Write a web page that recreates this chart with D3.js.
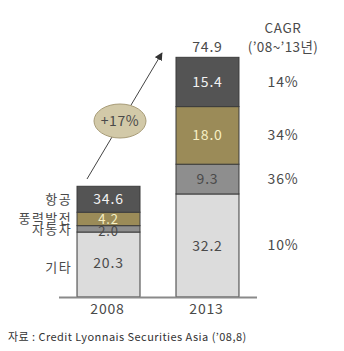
<!DOCTYPE html>
<html><head><meta charset="utf-8">
<script src="https://cdn.jsdelivr.net/npm/d3@7"></script>
<style>
html,body{margin:0;padding:0;background:#fff;}
svg{display:block;}
text{font-family:"Noto Sans CJK KR","Noto Sans",sans-serif;}
</style></head>
<body>
<svg id="c" width="344" height="351"></svg>
<script>
const years = ["2008", "2013"];
const categories = ["기타", "자동차", "풍력발전", "항공"];
const values2008 = [20.3, 2.0, 4.2, 8.1];
const values2013 = [32.2, 9.3, 18.0, 15.4];
const labels2008 = ["20.3", "2.0", "4.2", "34.6"];
const labels2013 = ["32.2", "9.3", "18.0", "15.4"];
const totals = [34.6, 74.9];
const cagr = ["10%", "36%", "34%", "14%"];
const growthLabel = "+17%";

const colors = ["#dcdcdc", "#8e8e8e", "#9b8b58", "#545454"];
const textColors = ["#4a4a4a", "#4a4a4a", "#f6efc4", "#f2f2f2"];
const ink = "#4a4a4a";

const svg = d3.select("#c");
const y = d3.scaleLinear().domain([0, 75]).range([297, 57]);
const x = d3.scaleBand().domain(years).range([59, 257]).paddingInner(0.3636).paddingOuter(0.182);

const series = [values2008, values2013];
const labels = [labels2008, labels2013];

// arrow + ellipse (behind)
svg.append("defs").append("marker").attr("id","ah").attr("viewBox","0 0 10 10")
  .attr("refX",9).attr("refY",5).attr("markerWidth",8).attr("markerHeight",8)
  .attr("orient","auto").attr("markerUnits","userSpaceOnUse")
  .append("path").attr("d","M0,0L10,5L0,10z").attr("fill","#333");
svg.append("line").attr("x1",87).attr("y1",179).attr("x2",162).attr("y2",53)
  .attr("stroke","#444").attr("stroke-width",1).attr("marker-end","url(#ah)");
svg.append("ellipse").attr("cx",120).attr("cy",121).attr("rx",26).attr("ry",17)
  .attr("fill","#d2c9a8").attr("stroke","#a89c78").attr("stroke-width",1);
svg.append("text").attr("x",120).attr("y",126).attr("text-anchor","middle")
  .attr("font-size",14).attr("letter-spacing",0.6).attr("fill",ink).text(growthLabel);

years.forEach((yr, i) => {
  let acc = 0;
  series[i].forEach((v, j) => {
    const y0 = y(acc), y1 = y(acc + v);
    svg.append("rect").attr("x", x(yr)).attr("y", y1)
      .attr("width", x.bandwidth()).attr("height", y0 - y1)
      .attr("fill", colors[j]).attr("stroke", "#3c3c3c").attr("stroke-width", 1);
    acc += v;
  });
});

// axis baseline
svg.append("line").attr("x1",59).attr("x2",257).attr("y1",y(0)+0.5).attr("y2",y(0)+0.5)
  .attr("stroke","#8a8a8a").attr("stroke-width",2);

// value labels
const labelNudge2008 = [-2, 2, 0, 0];
const labelSize2008 = [14, 13, 13, 14];
years.forEach((yr, i) => {
  let acc = 0;
  series[i].forEach((v, j) => {
    const cy = (y(acc) + y(acc + v)) / 2 + (i === 0 ? labelNudge2008[j] : 0);
    const fs = i === 0 ? labelSize2008[j] : 14;
    svg.append("text").attr("x", x(yr) + x.bandwidth()/2).attr("y", cy + fs * 0.36)
      .attr("text-anchor","middle").attr("font-size",fs).attr("letter-spacing",0.8)
      .attr("fill", textColors[j]).text(labels[i][j]);
    acc += v;
  });
});

// category labels for 2008
const catY = [267, 229.5, 218, 199];
categories.forEach((c, j) => {
  svg.append("text").attr("x", 72).attr("y", catY[j] + 4.5).attr("text-anchor","end")
    .attr("font-size",13).attr("letter-spacing",1.4).attr("fill",ink).text(c);
});

// totals
svg.append("text").attr("x", x("2013") + x.bandwidth()/2).attr("y", y(totals[1]) - 5)
  .attr("text-anchor","middle").attr("font-size",14).attr("letter-spacing",0.8).attr("fill",ink).text(totals[1].toFixed(1));

// year labels
years.forEach(yr => {
  svg.append("text").attr("x", x(yr) + x.bandwidth()/2 - 1).attr("y", 314)
    .attr("text-anchor","middle").attr("font-size",14).attr("letter-spacing",0.8).attr("fill",ink).text(yr);
});

// CAGR header
svg.append("text").attr("x",283).attr("y",33).attr("text-anchor","middle")
  .attr("font-size",13.5).attr("letter-spacing",0.6).attr("fill",ink).text("CAGR");
svg.append("text").attr("x",283).attr("y",52).attr("text-anchor","middle")
  .attr("font-size",13.5).attr("letter-spacing",0.4).attr("fill",ink).text("(’08~’13년)");

// CAGR values aligned with 2013 segments
let acc1 = 0;
values2013.forEach((v, j) => {
  const cy = (y(acc1) + y(acc1 + v)) / 2;
  svg.append("text").attr("x",283).attr("y", cy + 5).attr("text-anchor","middle")
    .attr("font-size",14).attr("letter-spacing",0.8).attr("fill",ink).text(cagr[j]);
  acc1 += v;
});

// source
svg.append("text").attr("x",8).attr("y",341).attr("font-size",11).attr("letter-spacing",0.45)
  .attr("fill","#333").text("자료 : Credit Lyonnais Securities Asia (’08,8)");
</script>
</body></html>
